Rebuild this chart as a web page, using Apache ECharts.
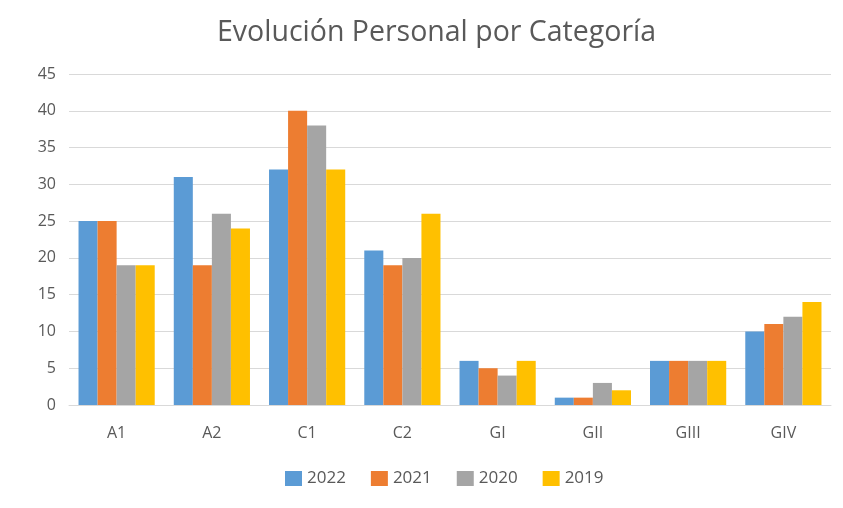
<!DOCTYPE html>
<html>
<head>
<meta charset="utf-8">
<script src="https://cdn.jsdelivr.net/npm/echarts@6/dist/echarts.min.js"></script>
<style>
  html, body { margin: 0; padding: 0; background: #fff; }
  #chart { width: 843px; height: 508px; }
</style>
</head>
<body>
<div id="chart"></div>
<script>
var categories = ['A1', 'A2', 'C1', 'C2', 'GI', 'GII', 'GIII', 'GIV'];
var years = ['2022', '2021', '2020', '2019'];
var v2022 = [25, 31, 32, 21, 6, 1, 6, 10];
var v2021 = [25, 19, 40, 19, 5, 1, 6, 11];
var v2020 = [19, 26, 38, 20, 4, 3, 6, 12];
var v2019 = [19, 24, 32, 26, 6, 2, 6, 14];
var yTicks = [0, 5, 10, 15, 20, 25, 30, 35, 40, 45];

var colors = ['#5B9BD5', '#ED7D31', '#A5A5A5', '#FFC000'];
var values = [v2022, v2021, v2020, v2019];

var dom = document.getElementById('chart');
var myChart = echarts.init(dom);
option = {
    color: colors,
    animation: false,
    title: {
        text: 'Evolución Personal por Categoría',
        left: 212,
        top: 13,
        textStyle: {
            fontFamily: 'Open Sans',
            fontWeight: 'normal',
            fontSize: 28.5,
            color: '#595959'
        }
    },
    legend: {
        bottom: 16,
        left: 280,
        itemWidth: 17,
        itemHeight: 15,
        itemGap: 25,
        icon: 'rect',
        textStyle: {
            fontFamily: 'Open Sans',
            fontSize: 17,
            color: '#595959'
        },
        data: years
    },
    grid: {
        left: 69,
        right: 12,
        top: 74,
        bottom: 103
    },
    xAxis: {
        type: 'category',
        data: categories,
        axisLine: { lineStyle: { color: '#D9D9D9' } },
        axisTick: { show: false },
        axisLabel: {
            margin: 20,
            fontFamily: 'Open Sans',
            fontSize: 16,
            color: '#595959'
        }
    },
    yAxis: {
        type: 'value',
        min: yTicks[0],
        max: yTicks[yTicks.length - 1],
        interval: 5,
        axisLine: { show: false },
        axisTick: { show: false },
        axisLabel: {
            margin: 13,
            fontFamily: 'Open Sans',
            fontSize: 16,
            color: '#595959'
        },
        splitLine: { lineStyle: { color: '#D9D9D9' } }
    },
    series: years.map(function (y, i) {
        return {
            name: y,
            type: 'bar',
            data: values[i],
            barGap: '0%',
            barCategoryGap: '20%'
        };
    })
};
if (option && typeof option === 'object') {
    myChart.setOption(option, true);
}
</script>
</body>
</html>
